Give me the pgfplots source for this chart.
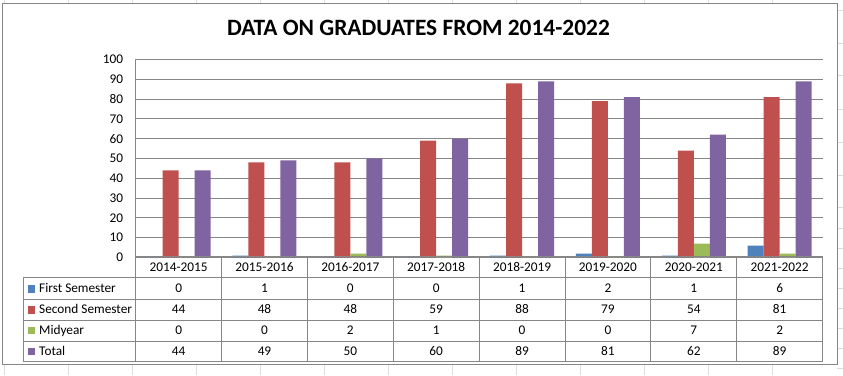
\documentclass[border=0pt]{standalone}
\usepackage{pgfplots}
\pgfplotsset{compat=1.18}
\usepackage{fontspec}
\setmainfont{Carlito}
\definecolor{s1}{HTML}{4F81BD}
\definecolor{s2}{HTML}{C0504D}
\definecolor{s3}{HTML}{9BBB59}
\definecolor{s4}{HTML}{8064A2}
\definecolor{gl}{RGB}{134,134,134}
\definecolor{cell}{RGB}{218,220,221}
\newcommand{\tf}{\fontsize{13.3}{15}\selectfont}
\begin{document}
\begin{tikzpicture}
\useasboundingbox (0,0) rectangle (843pt,375pt);
\fill[white] (0,0) rectangle (843pt,375pt);
\begin{scope}[x=1pt,y=-1pt,yshift=375pt]
  \foreach \x in {4,68,132,196,260,324,388,452,516,580,644,708,772}
    \draw[cell,line width=0.8pt] (\x,0)--(\x,3) (\x,364)--(\x,375);
  \foreach \y in {10,43,75,109,142,175,207,228,248,268,288,308,328,348,368}
    \draw[cell,line width=0.8pt] (837,\y)--(843,\y);
  \draw[gl,line width=1pt] (2.5,3.5) rectangle (837,364);
  \node[anchor=base,font=\fontsize{23.4}{27}\selectfont\bfseries] at (418.5,36) {DATA ON GRADUATES FROM 2014-2022};
\end{scope}
\begin{axis}[
  at={(135.7pt,117.5pt)}, anchor=south west,
  scale only axis, width=686.9pt, height=198pt,
  xmin=-0.5, xmax=7.5, ymin=0, ymax=100,
  ytick={0,10,...,100}, xtick=\empty,
  ymajorgrids, grid style={gl,line width=1pt},
  axis x line*=bottom, axis y line*=left,
  axis line style={-,gl,line width=1pt},
  major tick length=0pt,
  yticklabel style={anchor=east,inner sep=0pt,xshift=-12.4pt},
  tick label style={font=\tf},
  /pgf/number format/assume math mode=true,
  ybar=0pt, bar width=16pt,
  clip=false,
]
\addplot[fill=s1,draw=none] coordinates {(0,0)(1,1)(2,0)(3,0)(4,1)(5,2)(6,1)(7,6)};
\addplot[fill=s2,draw=none] coordinates {(0,44)(1,48)(2,48)(3,59)(4,88)(5,79)(6,54)(7,81)};
\addplot[fill=s3,draw=none] coordinates {(0,0)(1,0)(2,2)(3,1)(4,0)(5,0)(6,7)(7,2)};
\addplot[fill=s4,draw=none] coordinates {(0,44)(1,49)(2,50)(3,60)(4,89)(5,81)(6,62)(7,89)};
\end{axis}
\begin{scope}[x=1pt,y=-1pt,yshift=375pt]
  % table lines
  \draw[gl,line width=1pt] (135.7,257)--(822.6,257);
  \foreach \y in {278,299,320,341,361.5}
    \draw[gl,line width=1pt] (23,\y)--(822.6,\y);
  \draw[gl,line width=1pt] (23,278)--(23,361.5);
  \foreach \k in {0,...,8}
    \draw[gl,line width=1pt] ({135.7+85.86*\k},257)--({135.7+85.86*\k},361.5);
  % header
  \foreach \lab [count=\i from 0] in {2014-2015,2015-2016,2016-2017,2017-2018,2018-2019,2019-2020,2020-2021,2021-2022}
    \node[anchor=base,inner sep=0pt,font=\tf] at ({135.7+85.86*(\i+0.5)},272) {\lab};
  % legend column
  \fill[s1] (27.5,285) rectangle (35,292.5);
  \fill[s2] (27.5,306) rectangle (35,313.5);
  \fill[s3] (27.5,326.5) rectangle (35,334);
  \fill[s4] (27.5,347.5) rectangle (35,355);
  \node[anchor=base west,inner sep=0pt,font=\tf] at (39,292.7) {First Semester};
  \node[anchor=base west,inner sep=0pt,font=\tf] at (39,313.7) {Second Semester};
  \node[anchor=base west,inner sep=0pt,font=\tf] at (39,334.3) {Midyear};
  \node[anchor=base west,inner sep=0pt,font=\tf] at (39,355) {Total};
  \foreach \v [count=\i from 0] in {0,1,0,0,1,2,1,6}
    \node[anchor=base,inner sep=0pt,font=\tf] at ({135.7+85.86*(\i+0.5)},292.7) {\v};
  \foreach \v [count=\i from 0] in {44,48,48,59,88,79,54,81}
    \node[anchor=base,inner sep=0pt,font=\tf] at ({135.7+85.86*(\i+0.5)},313.7) {\v};
  \foreach \v [count=\i from 0] in {0,0,2,1,0,0,7,2}
    \node[anchor=base,inner sep=0pt,font=\tf] at ({135.7+85.86*(\i+0.5)},334.3) {\v};
  \foreach \v [count=\i from 0] in {44,49,50,60,89,81,62,89}
    \node[anchor=base,inner sep=0pt,font=\tf] at ({135.7+85.86*(\i+0.5)},355) {\v};
\end{scope}
\end{tikzpicture}
\end{document}
